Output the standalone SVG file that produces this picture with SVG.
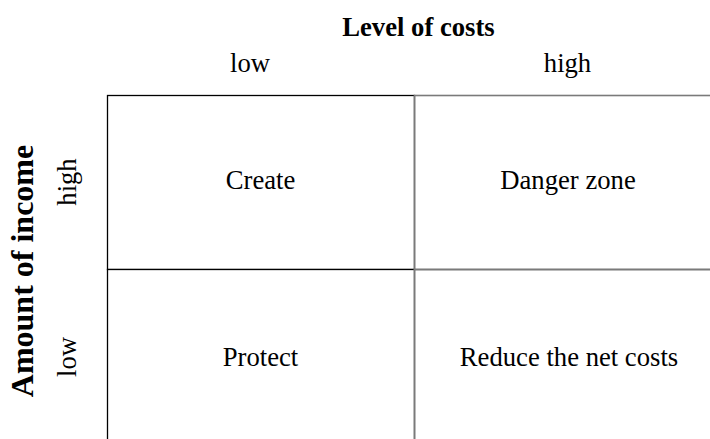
<svg xmlns="http://www.w3.org/2000/svg" width="710" height="439" viewBox="0 0 710 439">
<style>
text{font-family:"Liberation Serif","Times New Roman",serif;fill:#000;text-anchor:middle}
.t{font-size:26.67px}
.h{font-size:26.67px;font-weight:bold}
.hv{font-size:32px;font-weight:bold}
.lc{fill:#fff;stroke:#000;stroke-width:1.3}
.rc{fill:none;stroke:#7a7a7a;stroke-width:1.6}
</style>
<rect x="0" y="0" width="710" height="439" fill="#fff"/>
<g id="axis-labels">
<text class="h" x="418.5" y="36">Level of costs</text>
<text class="t" x="250" y="72">low</text>
<text class="t" x="567.5" y="72">high</text>
<text class="hv" transform="translate(33,271) rotate(-90)">Amount of income</text>
<text class="t" transform="translate(76,182) rotate(-90)">high</text>
<text class="t" transform="translate(76,357) rotate(-90)">low</text>
</g>
<g id="cell-create">
<rect class="lc" x="107.5" y="95.5" width="307" height="174"/>
<text class="t" x="260.5" y="189">Create</text>
</g>
<g id="cell-protect">
<rect class="lc" x="107.5" y="269.5" width="307" height="180"/>
<text class="t" x="260.5" y="366">Protect</text>
</g>
<g id="cell-danger-zone">
<rect class="rc" x="414.5" y="95.5" width="320" height="174"/>
<text class="t" x="568" y="189">Danger zone</text>
</g>
<g id="cell-reduce">
<rect class="rc" x="414.5" y="269.5" width="320" height="180"/>
<text class="t" x="569" y="366">Reduce the net costs</text>
</g>
<g id="connectors"/>
</svg>
